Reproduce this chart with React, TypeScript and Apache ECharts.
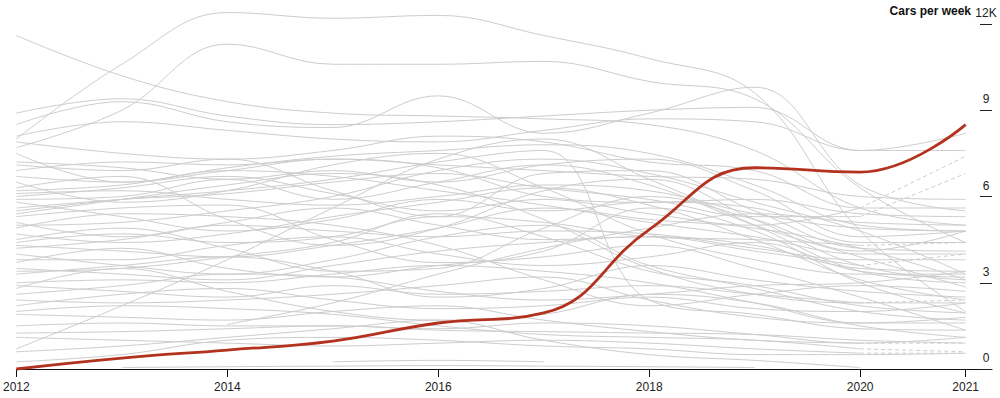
import React, { useEffect, useRef } from "react";
import * as echarts from "echarts";

// Years on the x axis
const years = [2012, 2013, 2014, 2015, 2016, 2017, 2018, 2019, 2020, 2021];
const xTickYears = [2012, 2014, 2016, 2018, 2020, 2021];

// Highlighted series (thousand cars per week)
const highlight = [0.0, 0.38, 0.66, 0.97, 1.6, 1.95, 4.85, 7.0, 6.85, 8.5];

// Grey comparison lines (thousand cars per week), 2012..2021
const upperLines: (number | null)[][] = [
  [8.0, 10.6, 12.4, 12.2, 12.3, 11.6, 10.8, 9.6, 4.8, 2.0],
  [7.7, 9.0, 11.3, 10.6, 10.6, 10.7, 10.0, 9.4, 6.3, 4.4],
  [11.6, 10.2, 9.3, 8.9, 8.8, 8.7, 8.5, 7.6, 5.6, 5.0],
  [8.5, 9.3, 8.6, 8.4, 9.5, 8.2, 8.9, 9.8, 6.4, 5.5],
  [8.9, 9.4, 8.8, 8.5, 8.6, 8.8, 9.0, 9.1, 7.6, 7.6],
  [8.1, 8.6, 8.3, 8.0, 7.9, 8.3, 8.7, 8.6, 7.6, 8.2],
];

const middleLines: (number | null)[][] = [
  [7.9, 7.5, 7.3, 7.6, 8.1, 7.9, 7.2, 6.9, 5.6, 5.6],
  [7.5, 6.5, 7.0, 7.4, 7.6, 7.8, 7.5, 6.4, 5.0, 4.8],
  [7.2, 7.0, 6.6, 6.9, 6.5, 7.1, 7.3, 6.2, 4.6, 4.8],
  [7.1, 6.9, 7.3, 6.2, 5.3, 6.8, 6.9, 5.5, 4.2, 4.1],
  [6.7, 6.5, 6.9, 7.3, 7.0, 6.0, 5.8, 5.9, 5.4, 5.3],
  [6.5, 5.8, 6.2, 7.1, 7.5, 6.3, 4.7, 3.8, 3.3, 3.3],
  [6.3, 6.7, 5.2, 4.3, 4.9, 6.2, 6.6, 5.2, 3.6, 3.1],
  [6.2, 6.4, 6.9, 6.7, 6.2, 5.7, 5.1, 4.6, 4.0, 4.0],
  [5.9, 6.0, 6.6, 5.9, 6.5, 7.1, 6.4, 5.0, 3.9, 2.85],
  [5.8, 5.3, 4.8, 5.2, 5.9, 5.5, 5.8, 5.6, 4.4, 4.4],
  [5.4, 5.9, 6.4, 6.8, 6.4, 5.2, 3.5, 2.6, 2.3, 2.3],
  [5.3, 5.6, 5.7, 4.5, 3.7, 4.1, 5.6, 4.8, 3.0, 1.95],
  [5.1, 4.6, 5.1, 5.6, 5.0, 4.5, 4.6, 4.3, 3.5, 3.4],
  [4.9, 5.4, 5.3, 5.0, 4.3, 3.1, 2.2, 2.6, 2.9, 2.7],
  [4.7, 4.4, 4.7, 5.3, 5.8, 6.3, 5.7, 4.5, 3.1, 2.4],
  [4.5, 4.9, 4.2, 3.4, 3.5, 4.9, 6.0, 5.2, 4.1, 4.8],
  [4.2, 4.5, 5.0, 4.8, 4.6, 4.8, 4.7, 4.2, 3.8, 3.8],
  [4.0, 3.6, 3.3, 3.8, 4.6, 5.0, 3.6, 2.8, 2.0, 1.7],
  [3.8, 3.8, 4.3, 4.6, 4.0, 3.6, 3.9, 4.4, 3.4, 3.2],
  [3.7, 4.2, 3.5, 3.2, 3.6, 3.9, 4.3, 3.5, 2.5, 1.35],
  [6.9, 7.2, 7.1, 7.3, 7.1, 6.9, 6.7, 6.6, 6.0, 5.9],
  [6.1, 6.2, 5.9, 5.7, 6.0, 6.4, 6.2, 5.4, 4.9, 4.8],
  [5.0, 5.1, 5.5, 6.0, 6.9, 7.3, 6.8, 5.8, 4.8, 3.3],
  [4.3, 4.1, 3.9, 4.3, 4.9, 5.6, 5.2, 4.9, 4.2, 3.1],
  [3.4, 3.5, 3.9, 4.4, 5.4, 4.6, 3.4, 2.9, 2.2, 1.95],
  [5.5, 5.9, 6.2, 6.6, 7.2, 7.6, 2.4, 1.9, 1.4, 1.35],
];

const lowerLines: (number | null)[][] = [
  [3.3, 3.6, 3.9, 3.4, 2.5, 2.8, 3.6, 3.1, 2.7, 2.5],
  [3.0, 3.1, 3.0, 3.3, 3.6, 3.4, 3.0, 2.3, 1.6, 1.6],
  [2.6, 2.9, 3.3, 3.2, 2.7, 2.4, 2.6, 2.9, 3.0, 3.4],
  [2.4, 2.3, 2.4, 2.6, 2.9, 3.2, 2.4, 1.8, 1.6, 1.8],
  [2.2, 2.6, 2.8, 2.4, 2.1, 2.2, 2.5, 2.1, 2.0, 2.3],
  [0.7, 2.2, 3.8, 5.6, 7.3, 8.0, 6.6, 5.0, 3.4, 3.0],
  [1.25, 1.3, 1.4, 1.5, 1.35, 1.3, 1.25, 1.2, 1.0, 0.9],
  [1.5, 1.6, 1.5, 1.5, 1.4, 1.6, 1.5, 1.2, 0.9, 1.1],
  [0.6, 0.8, 1.1, 1.4, 1.7, 1.0, 0.5, 0.3, 0.05, null],
  [0.25, 0.5, 1.0, 1.1, 1.0, 0.8, 0.7, 0.5, 0.5, 0.55],
  [2.8, 3.5, 2.7, 2.0, 1.7, 1.9, 2.6, 2.3, 1.5, 1.1],
];

const partialLines: (number | null)[][] = [
  [null, null, 1.55, 2.3, 3.3, 4.2, 4.9, 5.4, 5.1, 5.0],
  [null, null, null, 0.25, 0.3, 0.25, null, null, null, null],
  [null, 0.05, 0.08, 0.1, 0.12, 0.1, 0.08, 0.05, null, null],
];

// Lines whose last year (2020 -> 2021) is an estimate, drawn dashed
const dashedEndLines: number[][] = [
  [6.0, 6.3, 6.7, 6.1, 5.5, 5.9, 5.4, 5.0, 5.6, 7.4],
  [5.6, 5.9, 6.1, 6.5, 6.8, 6.3, 5.9, 5.3, 5.3, 6.8],
  [4.4, 4.7, 4.4, 4.6, 5.3, 5.1, 4.6, 4.5, 4.3, 4.4],
  [3.5, 3.3, 3.1, 3.6, 4.1, 4.4, 4.6, 4.1, 3.6, 4.0],
  [2.9, 2.7, 2.5, 2.9, 2.6, 2.7, 2.9, 2.6, 2.3, 2.4],
  [1.9, 1.8, 1.7, 2.0, 2.2, 1.7, 1.3, 1.0, 0.9, 0.9],
  [1.1, 1.0, 0.9, 0.8, 0.9, 1.0, 0.9, 0.7, 0.55, 0.55],
  [2.0, 2.2, 2.1, 1.9, 1.5, 1.2, 1.1, 1.0, 0.7, 0.6],
];

const GREY = "#cdcdcd";
const RED = "#b3321f";
const FONT = "'Liberation Sans', Arial, Helvetica, sans-serif";

function toPoints(vals: (number | null)[]): [number, number][] {
  const pts: [number, number][] = [];
  vals.forEach((v, i) => {
    if (v !== null && v !== undefined) pts.push([years[i], v]);
  });
  return pts;
}

function greySeries(points: [number, number][], dashed = false) {
  return {
    type: "line",
    data: points,
    smooth: 0.4,
    symbol: "none",
    silent: true,
    clip: false,
    z: 1,
    lineStyle: { color: GREY, width: 1, type: dashed ? [4, 3] : "solid" },
    emphasis: { disabled: true },
  };
}

export default function App() {
  const ref = useRef<HTMLDivElement>(null);

  useEffect(() => {
    document.body.style.margin = "0";
    if (!ref.current) return;
    const chart = echarts.init(ref.current, undefined, { renderer: "svg" });

    const series: any[] = [];
    [...upperLines, ...middleLines, ...lowerLines, ...partialLines].forEach((l) => {
      series.push(greySeries(toPoints(l)));
    });
    dashedEndLines.forEach((l) => {
      const solid = l.map((v, i) => (i <= 8 ? v : null));
      series.push(greySeries(toPoints(solid)));
      const dash = l.map((v, i) => (i >= 8 ? v : null));
      series.push(greySeries(toPoints(dash), true));
    });
    series.push({
      type: "line",
      data: toPoints(highlight),
      smooth: 0.45,
      symbol: "none",
      silent: true,
      clip: false,
      z: 5,
      lineStyle: { color: RED, width: 2.8 },
      emphasis: { disabled: true },
    });

    chart.setOption({
      animation: false,
      backgroundColor: "#ffffff",
      grid: { left: 16, right: 8, top: 24, bottom: 29, containLabel: false },
      xAxis: {
        type: "value",
        min: 2012,
        max: 2021.25,
        splitLine: { show: false },
        axisLine: { show: true, lineStyle: { color: "#111", width: 1 } },
        axisTick: {
          show: true,
          customValues: xTickYears,
          length: 8,
          lineStyle: { color: "#111", width: 1 },
        },
        axisLabel: {
          customValues: xTickYears,
          formatter: (v: number) => String(v),
          margin: 12,
          color: "#222",
          fontSize: 12,
          fontFamily: FONT,
        },
      },
      yAxis: {
        type: "value",
        position: "right",
        min: 0,
        max: 12,
        interval: 3,
        splitLine: { show: false },
        axisLine: { show: false },
        axisTick: {
          show: true,
          inside: true,
          length: 12,
          lineStyle: { color: "#222", width: 1 },
        },
        axisLabel: {
          inside: true,
          margin: 6,
          align: "center",
          verticalAlign: "bottom",
          padding: [0, 0, 5, 0],
          color: "#222",
          fontSize: 12,
          fontFamily: FONT,
          formatter: (v: number) => (v === 12 ? "12K" : String(v)),
        },
      },
      graphic: [
        {
          type: "text",
          right: 29,
          top: 5,
          style: {
            text: "Cars per week",
            fill: "#111",
            font: `bold 12px ${FONT}`,
          },
          silent: true,
        },
      ],
      series,
    });

    return () => chart.dispose();
  }, []);

  return (
    <div
      ref={ref}
      style={{ position: "absolute", left: 0, top: 0, width: 1000, height: 398 }}
    />
  );
}
